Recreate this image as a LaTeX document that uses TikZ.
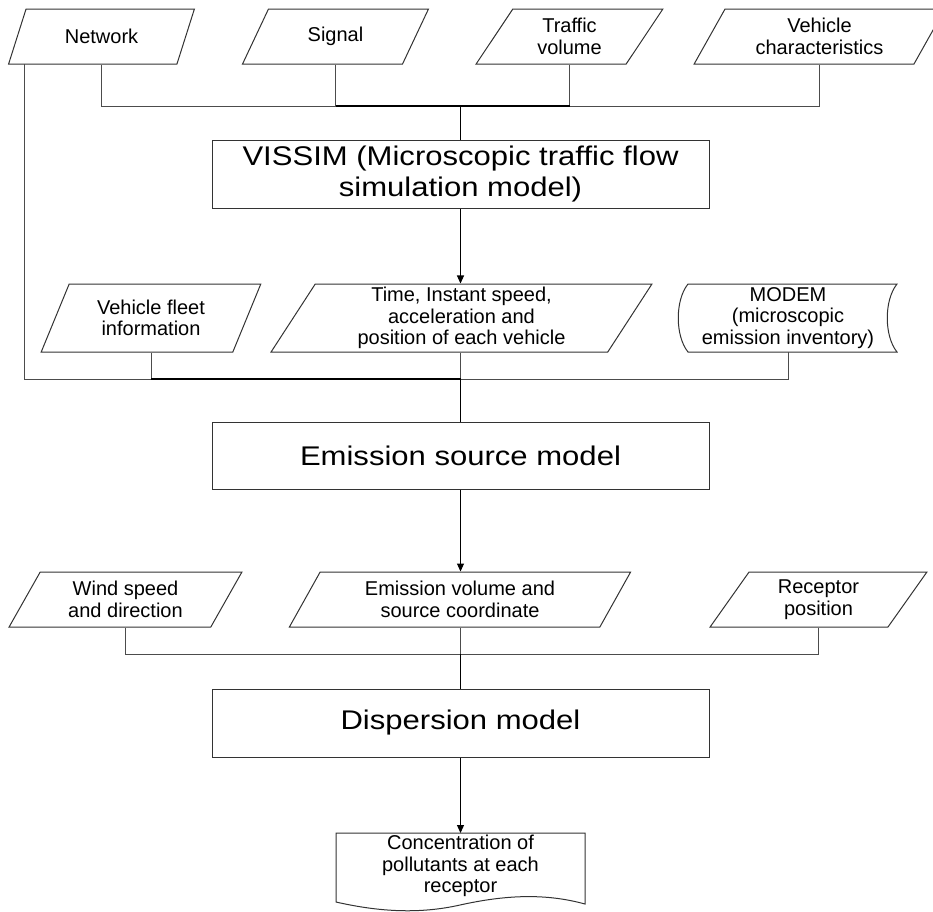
\documentclass[tikz,border=0pt]{standalone}
\usepackage{fontspec}
\setmainfont{Liberation Sans}
\newfontfamily\bigfam[FakeStretch=1.15]{Liberation Sans}
\usetikzlibrary{shapes.geometric,arrows.meta}
\newcommand\smallfnt{\fontsize{20}{21.5}\selectfont}
\newcommand\bigfnt{\bigfam\fontsize{27}{31}\selectfont}
\tikzset{
  outline/.style={draw=black!80, line width=1pt},
  box/.style={outline, rectangle, minimum width=497, inner sep=0pt, align=center, font=\bigfnt},
  para/.style={outline, trapezium, trapezium left angle=60, trapezium right angle=120,
     trapezium stretches=true, inner sep=0pt, align=center, font=\smallfnt},
  paratwo/.style={para, trapezium left angle=63, trapezium right angle=117},
  txt/.style={inner sep=0pt, align=center, font=\smallfnt},
  thinline/.style={draw=black!70, line width=1pt},
  thickline/.style={draw=black, line width=2.4pt},
  mainline/.style={draw=black, line width=1.1pt},
  arrowline/.style={mainline, -{Triangle[length=8pt,width=7pt]}}
}
\begin{document}
\begin{tikzpicture}[x=1pt,y=-1pt]
\useasboundingbox (0,0) rectangle (933,911);
\clip (0,0) rectangle (933,911);
% row 1
\node[para, minimum width=187, minimum height=55] (net) at (101.5,36.5) {Network};
\node[para, minimum width=187, minimum height=55] (sig) at (335.5,36.5) {Signal};
\node[para, minimum width=187, minimum height=55] (tv) at (569.5,36.5) {Traffic\\volume};
\node[para, minimum width=251, minimum height=55] (vc) at (819.5,36.5) {Vehicle\\characteristics};
% VISSIM
\node[box, minimum height=68] (vissim) at (460.5,174) {VISSIM (Microscopic traffic flow\\simulation model)};
% row 2
\node[paratwo, minimum width=220, minimum height=68] (vf) at (151,318) {Vehicle fleet\\information};
\node[paratwo, minimum width=381, minimum height=68] (time) at (461.5,318) {Time, Instant speed,\\acceleration and\\position of each vehicle};
\node[txt] (modem) at (788,318) {MODEM\\(microscopic\\emission inventory)};
\draw[outline] (688,284) -- (897,284) .. controls (884,300) and (884,336) .. (897,352)
   -- (688,352) .. controls (675,336) and (675,300) .. (688,284) -- cycle;
\coordinate (modemb) at (788,352);
% emission source
\node[box, minimum height=67] (emis) at (460.5,455.5) {Emission source model};
% row 3
\node[para, minimum width=233, minimum height=55] (wind) at (125.5,599.5) {Wind speed\\and direction};
\node[para, minimum width=342, minimum height=55] (ev) at (460,599.5) {Emission volume and\\source coordinate};
\node[para, minimum width=217, minimum height=55] (rec) at (818.5,599.5) {Receptor\\position};
% dispersion
\node[box, minimum height=68] (disp) at (460.5,723) {Dispersion model};
% document
\node[txt] (conc) at (460.5,866) {Concentration of\\pollutants at each\\receptor};
\draw[outline] (336,833) -- (585,833) -- (585,904)
   .. controls (545,893) and (505,895) .. (460,905)
   .. controls (420,914) and (380,912) .. (336,902) -- cycle;
\coordinate (conctop) at (460.5,833);
% junctions
\coordinate (j1) at (460.5,106);
\coordinate (j2) at (460.5,379);
\coordinate (j3) at (460.5,654);
\coordinate (leftstart) at (24,64);
% top connectors
\draw[thinline] (net.south) |- (j1);
\draw[thinline] (vc.south) |- (j1);
\draw[thinline] (sig.south) -- (sig.south |- j1);
\draw[thinline] (tv.south) -- (tv.south |- j1);
\draw[thickline] (sig.south |- j1) -- (tv.south |- j1);
\draw[mainline] (j1) -- (vissim.north);
\draw[arrowline] (vissim.south) -- (vissim.south |- time.north);
% middle connectors
\draw[thinline] (leftstart) |- (j2);
\draw[thinline] (modemb) |- (j2);
\draw[thinline] (vf.south) -- (vf.south |- j2);
\draw[thinline] (time.south -| j2) -- (j2);
\draw[thickline] (vf.south |- j2) -- (j2);
\draw[mainline] (j2) -- (emis.north);
\draw[arrowline] (emis.south) -- (emis.south |- ev.north);
% bottom connectors
\draw[thinline] (wind.south) |- (j3);
\draw[thinline] (rec.south) |- (j3);
\draw[thinline] (ev.south -| j3) -- (j3);
\draw[mainline] (j3) -- (disp.north);
\draw[arrowline] (disp.south) -- (conctop);
\end{tikzpicture}
\end{document}
